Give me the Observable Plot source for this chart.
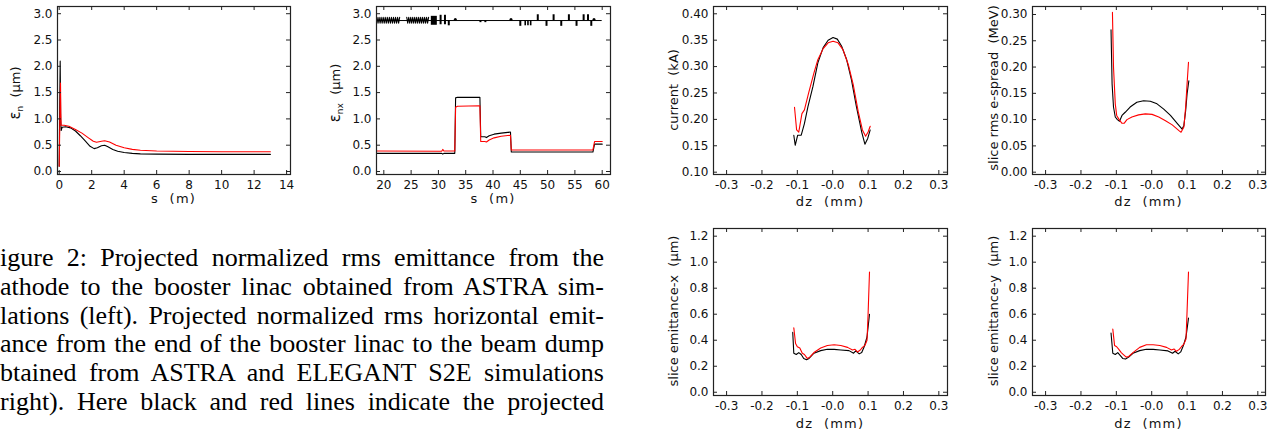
<!DOCTYPE html>
<html><head><meta charset="utf-8">
<script src="https://cdn.jsdelivr.net/npm/d3@7"></script>
<script src="https://cdn.jsdelivr.net/npm/@observablehq/plot@0.6"></script>
<style>
html,body{margin:0;padding:0;background:#fff;}
#root{position:relative;width:1276px;height:433px;overflow:hidden;background:#fff;}
#root svg{position:absolute;overflow:visible;}
.yt{position:absolute;font-family:"DejaVu Sans",sans-serif;font-size:13px;white-space:nowrap;color:#111;transform:translate(-50%,-50%) rotate(-90deg);}
.xt{position:absolute;font-family:"DejaVu Sans",sans-serif;font-size:13px;white-space:pre;color:#111;letter-spacing:1.2px;transform:translate(-50%,-50%);}
.sub{font-size:9px;position:relative;top:3px;}
.eps{font-size:15px;}
.cap{position:absolute;left:0;width:604px;height:30px;overflow:hidden;font-family:"Liberation Serif","Times New Roman",serif;font-size:26px;line-height:30px;text-align:justify;text-align-last:justify;color:#000;}
</style></head>
<body><div id="root"></div>
<script>
// ---------- DATA ----------
// Panel 1: projected emittance cathode -> booster (s in m, eps in um)
const p1Black = [[0.00,0.10],[0.03,1.20],[0.06,2.10],[0.09,1.00],[0.12,0.78],[0.18,0.84],[0.4,0.85],[0.7,0.83],[1.0,0.77],[1.3,0.68],[1.6,0.58],[1.9,0.48],[2.15,0.435],[2.35,0.45],[2.6,0.49],[2.8,0.50],[3.0,0.47],[3.3,0.42],[3.6,0.385],[4.0,0.36],[4.5,0.345],[5.0,0.335],[6.0,0.33],[8.0,0.325],[10.0,0.325],[13.0,0.325]];
const p1Red = [[0.00,0.10],[0.04,1.00],[0.08,1.68],[0.10,1.10],[0.12,0.88],[0.3,0.88],[0.6,0.86],[1.0,0.80],[1.4,0.73],[1.8,0.64],[2.1,0.575],[2.3,0.555],[2.6,0.575],[2.8,0.585],[3.1,0.56],[3.5,0.50],[4.0,0.45],[4.5,0.42],[5.0,0.405],[6.0,0.39],[8.0,0.38],[10.0,0.375],[13.0,0.375]];
// Panel 2: horizontal emittance booster -> dump
const p2Black = [[18.75,0.345],[30.6,0.345],[30.8,0.33],[31.0,0.345],[33.0,0.345],[33.15,1.40],[33.5,1.41],[37.6,1.41],[37.75,0.66],[38.5,0.66],[38.8,0.645],[39.3,0.68],[40.2,0.71],[41.5,0.73],[43.2,0.75],[43.35,0.37],[58.3,0.37],[58.6,0.52],[60.0,0.52]];
const p2Red = [[18.75,0.39],[30.6,0.385],[30.8,0.42],[31.0,0.39],[33.0,0.39],[33.15,1.22],[33.5,1.24],[37.6,1.25],[37.75,0.57],[38.5,0.57],[38.8,0.56],[39.3,0.60],[40.2,0.64],[41.5,0.67],[43.2,0.69],[43.35,0.41],[58.3,0.41],[58.6,0.57],[60.0,0.57]];
// Lattice sketch on panel 2
const latticeStart = 18.75, latticeEnd = 60.0, latticeLevel = 2.87;
const cavitySections = [[18.75, 22.9, 11], [24.2, 28.2, 11]]; // start, end, cells
const latticeBlocks = [[28.7, 29.8, 2.78, 2.95]];
const latticeBars = [[30.4,2.79,2.97],[31.2,2.79,2.97],[31.9,2.77,2.87],[37.7,2.83,2.87],[38.6,2.83,2.87],[45.0,2.76,2.87],[48.2,2.87,2.98],[49.8,2.76,2.87],[51.1,2.87,2.98],[52.5,2.76,2.87],[53.9,2.87,2.98],[55.3,2.76,2.87],[56.6,2.87,2.98],[57.4,2.87,2.98],[58.0,2.76,2.87]];
const latticeTriplet = [45.9, 46.4, 46.9];
const latticeDots = [33.1, 43.3, 58.5];
// Panel 3: current (kA) vs dz (mm)
const p3Black = [[-0.110,0.170],[-0.106,0.151],[-0.099,0.170],[-0.089,0.170],[-0.080,0.192],[-0.070,0.224],[-0.056,0.262],[-0.042,0.307],[-0.027,0.336],[-0.013,0.350],[0.001,0.355],[0.013,0.352],[0.025,0.339],[0.039,0.314],[0.053,0.275],[0.067,0.224],[0.082,0.176],[0.091,0.153],[0.099,0.164],[0.106,0.180]];
const p3Red = [[-0.108,0.223],[-0.102,0.180],[-0.096,0.176],[-0.087,0.211],[-0.080,0.218],[-0.068,0.250],[-0.053,0.288],[-0.042,0.313],[-0.027,0.334],[-0.013,0.345],[0.001,0.348],[0.015,0.345],[0.029,0.332],[0.044,0.304],[0.058,0.266],[0.072,0.215],[0.084,0.180],[0.093,0.168],[0.100,0.176],[0.106,0.187]];
// Panel 4: slice rms energy spread (MeV)
const p4Black = [[-0.115,0.271],[-0.112,0.168],[-0.108,0.124],[-0.103,0.105],[-0.097,0.100],[-0.091,0.097],[-0.084,0.108],[-0.075,0.114],[-0.061,0.124],[-0.042,0.133],[-0.023,0.136],[-0.004,0.135],[0.015,0.130],[0.034,0.120],[0.053,0.108],[0.072,0.093],[0.086,0.082],[0.091,0.089],[0.096,0.117],[0.100,0.149],[0.105,0.174]];
const p4Red = [[-0.111,0.304],[-0.108,0.200],[-0.103,0.130],[-0.099,0.108],[-0.092,0.100],[-0.084,0.093],[-0.078,0.093],[-0.070,0.100],[-0.056,0.105],[-0.037,0.109],[-0.018,0.111],[0.001,0.110],[0.020,0.105],[0.039,0.098],[0.058,0.090],[0.077,0.079],[0.083,0.076],[0.091,0.086],[0.096,0.124],[0.100,0.168],[0.104,0.209]];
// Panel 5: slice emittance-x (um)
const p5Black = [[-0.113,0.46],[-0.110,0.30],[-0.103,0.29],[-0.096,0.305],[-0.089,0.29],[-0.082,0.26],[-0.074,0.25],[-0.067,0.26],[-0.053,0.30],[-0.034,0.32],[-0.015,0.33],[0.004,0.33],[0.023,0.325],[0.046,0.32],[0.059,0.30],[0.065,0.318],[0.075,0.295],[0.082,0.305],[0.089,0.35],[0.097,0.425],[0.104,0.60]];
const p5Red = [[-0.110,0.495],[-0.105,0.375],[-0.100,0.35],[-0.093,0.34],[-0.086,0.30],[-0.080,0.29],[-0.072,0.26],[-0.065,0.27],[-0.053,0.305],[-0.034,0.34],[-0.015,0.36],[0.004,0.365],[0.023,0.36],[0.042,0.345],[0.056,0.325],[0.063,0.33],[0.070,0.31],[0.078,0.325],[0.084,0.345],[0.091,0.36],[0.097,0.40],[0.100,0.60],[0.104,0.925]];
// Panel 6: slice emittance-y (um)
const p6Black = [[-0.115,0.455],[-0.110,0.30],[-0.103,0.29],[-0.096,0.305],[-0.088,0.28],[-0.082,0.26],[-0.074,0.255],[-0.065,0.27],[-0.053,0.30],[-0.034,0.32],[-0.015,0.33],[0.004,0.33],[0.023,0.325],[0.046,0.318],[0.059,0.30],[0.066,0.315],[0.075,0.295],[0.082,0.31],[0.089,0.355],[0.097,0.425],[0.104,0.57]];
const p6Red = [[-0.110,0.485],[-0.105,0.36],[-0.099,0.35],[-0.093,0.33],[-0.086,0.305],[-0.080,0.29],[-0.072,0.27],[-0.065,0.275],[-0.053,0.305],[-0.034,0.345],[-0.015,0.365],[0.004,0.365],[0.023,0.36],[0.042,0.345],[0.056,0.325],[0.063,0.333],[0.070,0.315],[0.078,0.33],[0.084,0.35],[0.091,0.37],[0.097,0.41],[0.100,0.625],[0.104,0.925]];

// Tick values & labels
const sTicks1 = [0,2,4,6,8,10,12,14];
const sLabels1 = ["0","2","4","6","8","10","12","14"];
const sTicks2 = [20,25,30,35,40,45,50,55,60];
const sLabels2 = ["20","25","30","35","40","45","50","55","60"];
const epsTicks = [0,0.5,1,1.5,2,2.5,3];
const epsLabels = ["0.0","0.5","1.0","1.5","2.0","2.5","3.0"];
const dzTicks = [-0.3,-0.2,-0.1,0,0.1,0.2,0.3];
const dzLabels = ["-0.3","-0.2","-0.1","-0.0","0.1","0.2","0.3"];
const curTicks = [0.10,0.15,0.20,0.25,0.30,0.35,0.40];
const curLabels = ["0.10","0.15","0.20","0.25","0.30","0.35","0.40"];
const espTicks = [0,0.05,0.10,0.15,0.20,0.25,0.30];
const espLabels = ["0.00","0.05","0.10","0.15","0.20","0.25","0.30"];
const semTicks = [0,0.2,0.4,0.6,0.8,1.0,1.2];
const semLabels = ["0.0","0.2","0.4","0.6","0.8","1.0","1.2"];

const captionLines = [
  "igure 2:  Projected normalized rms emittance from the",
  "athode to the booster linac obtained from ASTRA sim-",
  "lations (left).  Projected normalized rms horizontal emit-",
  "ance from the end of the booster linac to the beam dump",
  "btained from ASTRA and ELEGANT S2E simulations",
  "right).  Here black and red lines indicate the projected"
];

// ---------- DRAW ----------
const root = document.getElementById("root");
const rows = a => a.map(([x, y]) => ({x, y}));
const FONT = "DejaVu Sans";

function panel(o) {
  const mL = 52, mR = 6, mT = 8, mB = 26;
  const fw = o.fw, fh = o.fh;
  const fmt = (ticks, labels) => d => labels[ticks.indexOf(d)];
  const svg = Plot.plot({
    width: fw + mL + mR, height: fh + mT + mB,
    marginLeft: mL, marginRight: mR, marginTop: mT, marginBottom: mB,
    x: {domain: o.xDomain}, y: {domain: o.yDomain},
    style: {fontFamily: FONT, fontSize: "12px", background: "transparent", color: "#111"},
    marks: [
      ...(o.marks || []),
      Plot.line(rows(o.black), {x: "x", y: "y", stroke: "#000", strokeWidth: 1.1, clip: true}),
      Plot.line(rows(o.red), {x: "x", y: "y", stroke: "#ff0000", strokeWidth: 1.1, clip: true}),
      Plot.frame({stroke: "#222", strokeWidth: 1.2}),
      Plot.ruleX(o.xTicks, {x: d => d, insetTop: fh - 4, stroke: "#222"}),
      Plot.ruleX(o.xTicks, {x: d => d, insetBottom: fh - 4, stroke: "#222"}),
      Plot.ruleY(o.yTicks, {y: d => d, insetRight: fw - 4, stroke: "#222"}),
      Plot.ruleY(o.yTicks, {y: d => d, insetLeft: fw - 4, stroke: "#222"}),
      Plot.axisX({ticks: o.xTicks, tickFormat: fmt(o.xTicks, o.xLabels), tickSize: 0, tickPadding: 6, label: null}),
      Plot.axisY({ticks: o.yTicks, tickFormat: fmt(o.yTicks, o.yLabels), tickSize: 0, tickPadding: 5, label: null})
    ]
  });
  svg.style.left = (o.left - mL) + "px";
  svg.style.top = (o.top - mT) + "px";
  root.appendChild(svg);
  const xt = document.createElement("div");
  xt.className = "xt"; xt.textContent = o.xTitle;
  xt.style.left = (o.left + fw / 2) + "px"; xt.style.top = o.xTitleY + "px";
  root.appendChild(xt);
  const yt = document.createElement("div");
  yt.className = "yt"; yt.innerHTML = o.yTitle;
  yt.style.left = o.yTitleX + "px"; yt.style.top = o.yTitleY + "px";
  root.appendChild(yt);
}

// lattice marks for panel 2
const cavityPts = [];
cavitySections.forEach(([a, b, n], k) => {
  for (let i = 0; i <= 2 * n; i++) cavityPts.push({x: a + (b - a) * i / (2 * n), y: latticeLevel + (i % 2 ? -0.05 : 0.06), sec: k});
});
const latticeMarks = [
  Plot.ruleY([latticeLevel], {x1: latticeStart, x2: latticeEnd, stroke: "#000", strokeWidth: 1}),
  Plot.line(cavityPts, {x: "x", y: "y", z: "sec", stroke: "#000", strokeWidth: 1.1}),
  Plot.rect(latticeBlocks, {x1: d => d[0], x2: d => d[1], y1: d => d[2], y2: d => d[3], fill: "#000"}),
  Plot.ruleX(latticeTriplet, {x: d => d, y1: 2.77, y2: latticeLevel, stroke: "#000", strokeWidth: 1.6}),
  Plot.ruleX(latticeBars, {x: d => d[0], y1: d => d[1], y2: d => d[2], stroke: "#000", strokeWidth: 2}),
  Plot.dot(latticeDots, {x: d => d, y: latticeLevel + 0.02, r: 1.5, fill: "#000"})
];

const epsTitle = '<span class="eps">ε</span><span class="sub">n</span>&nbsp;&nbsp;(μm)';
const epsxTitle = '<span class="eps">ε</span><span class="sub">nx</span>&nbsp;&nbsp;(μm)';

panel({left: 57, top: 6, fw: 233, fh: 168, xDomain: [-0.105, 14.24], yDomain: [-0.057, 3.137],
  xTicks: sTicks1, xLabels: sLabels1, yTicks: epsTicks, yLabels: epsLabels,
  black: p1Black, red: p1Red, xTitle: "s  (m)", xTitleY: 198, yTitle: epsTitle, yTitleX: 15, yTitleY: 93});
panel({left: 376, top: 6, fw: 234, fh: 168, xDomain: [18.66, 61.52], yDomain: [-0.057, 3.137],
  xTicks: sTicks2, xLabels: sLabels2, yTicks: epsTicks, yLabels: epsLabels, marks: latticeMarks,
  black: p2Black, red: p2Red, xTitle: "s  (m)", xTitleY: 198, yTitle: epsxTitle, yTitleX: 335, yTitleY: 93});
panel({left: 713, top: 6, fw: 234, fh: 168, xDomain: [-0.337, 0.3245], yDomain: [0.0956, 0.4138],
  xTicks: dzTicks, xLabels: dzLabels, yTicks: curTicks, yLabels: curLabels,
  black: p3Black, red: p3Red, xTitle: "dz  (mm)", xTitleY: 201, yTitle: "current&nbsp;&nbsp;(kA)", yTitleX: 673, yTitleY: 90});
panel({left: 1032, top: 6, fw: 233, fh: 168, xDomain: [-0.337, 0.3217], yDomain: [-0.0044, 0.3152],
  xTicks: dzTicks, xLabels: dzLabels, yTicks: espTicks, yLabels: espLabels,
  black: p4Black, red: p4Red, xTitle: "dz  (mm)", xTitleY: 201, yTitle: "slice rms e-spread&nbsp;&nbsp;(MeV)", yTitleX: 993, yTitleY: 88});
panel({left: 713, top: 228, fw: 234, fh: 167, xDomain: [-0.337, 0.3245], yDomain: [-0.025, 1.259],
  xTicks: dzTicks, xLabels: dzLabels, yTicks: semTicks, yLabels: semLabels,
  black: p5Black, red: p5Red, xTitle: "dz  (mm)", xTitleY: 423, yTitle: "slice emittance-x&nbsp;&nbsp;(μm)", yTitleX: 673, yTitleY: 311});
panel({left: 1032, top: 228, fw: 233, fh: 167, xDomain: [-0.337, 0.3217], yDomain: [-0.025, 1.259],
  xTicks: dzTicks, xLabels: dzLabels, yTicks: semTicks, yLabels: semLabels,
  black: p6Black, red: p6Red, xTitle: "dz  (mm)", xTitleY: 423, yTitle: "slice emittance-y&nbsp;&nbsp;(μm)", yTitleX: 993, yTitleY: 311});

captionLines.forEach((t, i) => {
  const d = document.createElement("div");
  d.className = "cap";
  d.style.top = (243 + i * 28.8) + "px";
  d.textContent = t;
  root.appendChild(d);
});
</script></body></html>
